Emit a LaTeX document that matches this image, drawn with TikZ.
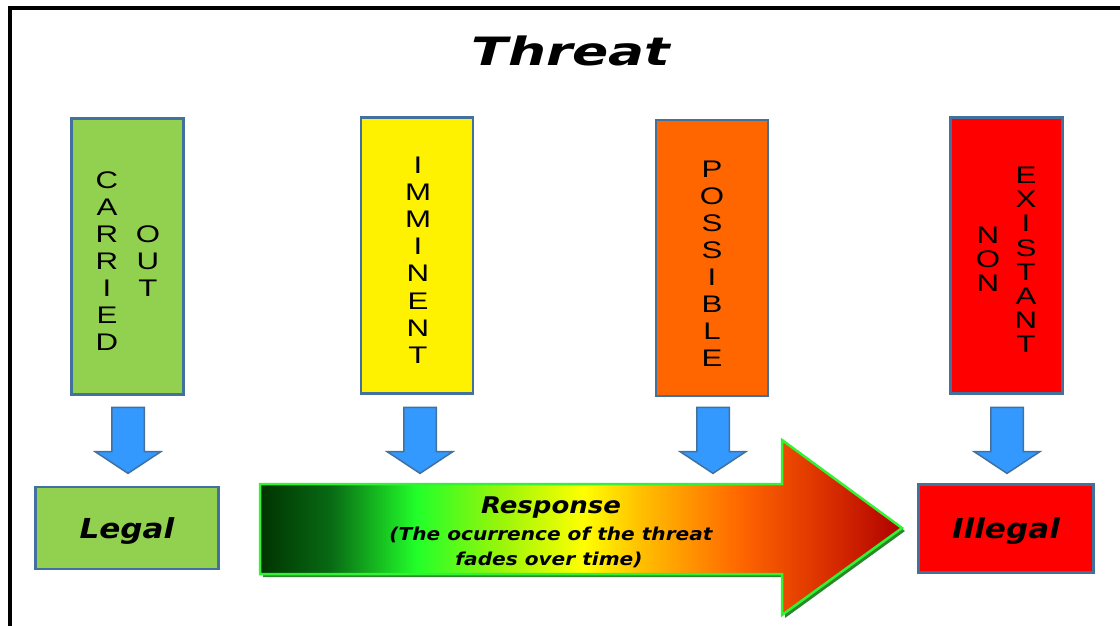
\documentclass[tikz,border=0pt]{standalone}
\usepackage{fontspec}
\usetikzlibrary{shapes.arrows}
\newfontfamily\letterfont[FakeStretch=1.3]{Liberation Sans}
\newfontfamily\labelfont[FakeStretch=1.13]{DejaVu Sans Bold Oblique}
\newfontfamily\titlefont[FakeStretch=1.37]{DejaVu Sans Bold Oblique}
\definecolor{edgeblue}{HTML}{41719C}
\definecolor{arrowblue}{HTML}{3399FF}
\definecolor{carriedgreen}{HTML}{92D050}
\definecolor{possibleorange}{HTML}{FF6600}
\definecolor{rimgreen}{HTML}{33F233}
\definecolor{shadowgreen}{HTML}{2A8A2A}
\definecolor{fadeA}{HTML}{003300}
\definecolor{fadeB}{HTML}{086A14}
\definecolor{fadeC}{HTML}{22FF2A}
\definecolor{fadeD}{HTML}{99F50A}
\definecolor{fadeE}{HTML}{FFFF00}
\definecolor{fadeF}{HTML}{FFC000}
\definecolor{fadeG}{HTML}{FF6600}
\definecolor{fadeH}{HTML}{DD3300}
\definecolor{fadeI}{HTML}{B00000}
\pgfdeclarehorizontalshading{fadeshade}{100bp}{color(0bp)=(fadeA);
  color(25bp)=(fadeA); color(30.5bp)=(fadeB); color(37.2bp)=(fadeC);
  color(43.7bp)=(fadeD); color(50.2bp)=(fadeE); color(54.6bp)=(fadeF);
  color(62.4bp)=(fadeG); color(68.6bp)=(fadeH); color(75bp)=(fadeI);
  color(100bp)=(fadeI)}
\tikzset{
  % Threat level box
  topbox/.style={draw=edgeblue, line width=2.5, minimum width=112,
    minimum height=276, inner sep=0pt},
  % Letters stacked one under the other
  stack/.style={font=\letterfont\fontsize{24}{#1}\selectfont,
    align=center, inner sep=0pt},
  % Result box
  lowbox/.style={draw=edgeblue, line width=2.5, text depth=0pt,
    font=\labelfont\fontsize{27.5}{30}\selectfont, inner sep=0pt},
  % Blue block arrow
  blockarrow/.style={single arrow, draw=edgeblue, fill=arrowblue,
    line width=1.5, rotate=-90, minimum height=66, minimum width=64,
    inner xsep=0pt, inner ysep=15.5, single arrow head extend=16.5,
    single arrow tip angle=113},
  % Text on the big arrow
  resptext/.style={font=\labelfont\fontsize{#1}{#1}\selectfont,
    anchor=base, inner sep=0pt},
}
\begin{document}
\begin{tikzpicture}[x=1pt, y=-1pt]
  \useasboundingbox (0,0) rectangle (1120,625);
  \draw[line width=4] (9.5,640) -- (9.5,8) -- (1140,8);

  \node[font=\titlefont\fontsize{39}{42}\selectfont, inner sep=0pt]
    (title) at (571,51) {Threat};

  \node[topbox, fill=carriedgreen] (carriedbox) at (127.5,256.5) {};
  \node[topbox, fill=yellow] (imminentbox) at (417,255.5) {};
  \node[topbox, fill=possibleorange] (possiblebox) at (712,258) {};
  \node[topbox, fill=red] (nonbox) at (1006.5,255.5) {};

  \node[stack=27] (carried) at (107,261.5) {C\\A\\R\\R\\I\\E\\D};
  \node[stack=27] (out) at (148,261) {O\\U\\T};
  \node[stack=27.2] (imminent) at (418,260) {I\\M\\M\\I\\N\\E\\N\\T};
  \node[stack=27] (possible) at (712,264) {P\\O\\S\\S\\I\\B\\L\\E};
  \node[stack=24.2] (non) at (988,259) {N\\O\\N};
  \node[stack=24.2] (existant) at (1026,260) {E\\X\\I\\S\\T\\A\\N\\T};

  \node[blockarrow] (downcarried) at (128,435) {};
  \node[blockarrow] (downimminent) at (420,435) {};
  \node[blockarrow] (downpossible) at (713,435) {};
  \node[blockarrow] (downnon) at (1007,435) {};

  \node[lowbox, fill=carriedgreen, minimum width=183, minimum height=82]
    (legal) at (127,528) {Legal};
  \node[lowbox, fill=red, minimum width=175, minimum height=88]
    (illegal) at (1006,528.5) {Illegal};

  % big arrow with its shadow
  \fill[shadowgreen, shift={(3,3)}] (260,484) -- (782,484) -- (782,440) --
    (902,528) -- (782,615) -- (782,574) -- (260,574) -- cycle;
  \shadedraw[shading=fadeshade, draw=rimgreen, line width=2.5]
    (260,484) -- (782,484) -- (782,440) -- (902,528) -- (782,615) --
    (782,574) -- (260,574) -- cycle;

  \node[resptext=23] (resp) at (551,513.5) {Response};
  \node[resptext=17.8] (respline) at (551,540)
    {(The ocurrence of the threat};
  \node[resptext=17.8] (respend) at (549,565) {fades over time)};
\end{tikzpicture}
\end{document}
